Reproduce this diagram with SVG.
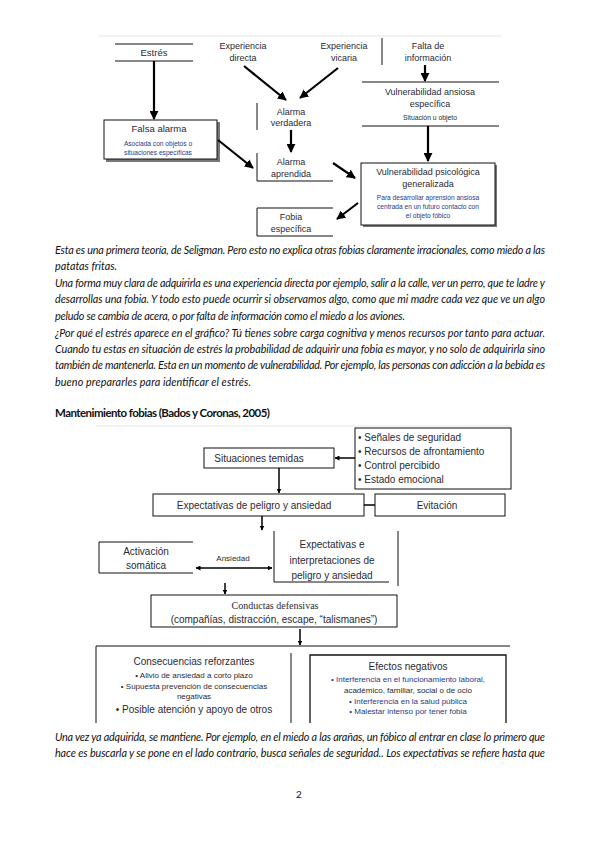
<svg xmlns="http://www.w3.org/2000/svg" width="599" height="848" viewBox="0 0 599 848">
<defs>
<style>
.t{font-family:"Liberation Sans",Arial,sans-serif;fill:#2a2a35;text-anchor:middle}
.l{font-family:"Liberation Sans",Arial,sans-serif;fill:#2a2a35;text-anchor:start}
.s{font-family:"Liberation Sans",Arial,sans-serif;fill:#1e3a8a;text-anchor:middle}
.p{font-family:Lato,"Open Sans",sans-serif;font-style:italic;font-size:10.8px;fill:#111}
.ln{stroke:#111;fill:none}
.bx{stroke:#111;fill:#fff}
</style>
<marker id="ah" viewBox="0 0 10 10" refX="9" refY="5" markerWidth="9" markerHeight="9" markerUnits="userSpaceOnUse" orient="auto"><path d="M0,0 L10,5 L0,10 z" fill="#000"/></marker>
<marker id="as" viewBox="0 0 10 10" refX="9" refY="5" markerWidth="5" markerHeight="5" markerUnits="userSpaceOnUse" orient="auto"><path d="M0,0 L10,5 L0,10 z" fill="#000"/></marker>
<marker id="asr" viewBox="0 0 10 10" refX="1" refY="5" markerWidth="5" markerHeight="5" markerUnits="userSpaceOnUse" orient="auto"><path d="M10,0 L0,5 L10,10 z" fill="#000"/></marker>
</defs>
<rect width="599" height="848" fill="#fff"/>

<!-- Top diagram -->
<line x1="98" y1="36" x2="502" y2="36" stroke="#e6e6e6" stroke-width="1"/>
<g id="estres">
<line class="ln" x1="115" y1="44" x2="193" y2="44"/>
<line class="ln" x1="115" y1="61" x2="193" y2="61"/>
<text class="t" x="154" y="56" font-size="9.5">Estrés</text>
</g>
<g id="falsa-alarma">
<rect x="106" y="122" width="114" height="40" fill="#777"/>
<rect class="bx" x="104" y="120" width="113" height="39"/>
<text class="t" x="159" y="132" font-size="9.5">Falsa alarma</text>
<text class="s" x="158" y="146" font-size="6.6">Asociada con objetos o</text>
<text class="s" x="158" y="155" font-size="6.6">situaciones específicas</text>
</g>
<g id="exp-directa">
<text class="t" x="243" y="49" font-size="9">Experiencia</text>
<text class="t" x="243" y="61" font-size="9">directa</text>
</g>
<g id="exp-vicaria">
<text class="t" x="344" y="49" font-size="9">Experiencia</text>
<text class="t" x="344" y="61" font-size="9">vicaria</text>
</g>
<g id="falta-info">
<line class="ln" x1="382" y1="38" x2="382" y2="65" stroke="#555"/>
<text class="t" x="428" y="49" font-size="9">Falta de</text>
<text class="t" x="428" y="61" font-size="9">información</text>
</g>
<g id="vuln-ansiosa">
<line class="ln" x1="362" y1="82" x2="499" y2="82"/>
<line class="ln" x1="362" y1="126" x2="499" y2="126"/>
<text class="t" x="430" y="95" font-size="9">Vulnerabilidad ansiosa</text>
<text class="t" x="430" y="107" font-size="9">específica</text>
<text class="t" x="430" y="120" font-size="6.8">Situación u objeto</text>
</g>
<g id="alarma-verdadera">
<line class="ln" x1="257" y1="103" x2="257" y2="130"/>
<text class="t" x="291" y="115" font-size="9">Alarma</text>
<text class="t" x="291" y="126" font-size="9">verdadera</text>
</g>
<g id="alarma-aprendida">
<polyline class="ln" points="257,153 257,181 333,181"/>
<text class="t" x="291" y="165" font-size="9">Alarma</text>
<text class="t" x="291" y="177" font-size="9">aprendida</text>
</g>
<g id="vuln-psicologica">
<rect x="363" y="165" width="134" height="62" fill="#777"/>
<rect class="bx" x="361" y="163" width="134" height="62"/>
<text class="t" x="428" y="175" font-size="9">Vulnerabilidad psicológica</text>
<text class="t" x="428" y="187" font-size="9">generalizada</text>
<text class="s" x="428" y="200" font-size="6.6" fill="#1a2a6a">Para desarrollar aprensión ansiosa</text>
<text class="s" x="428" y="209" font-size="6.6" fill="#1a2a6a">centrada en un futuro contacto con</text>
<text class="s" x="428" y="218" font-size="6.6" fill="#1a2a6a">el objeto fóbico</text>
</g>
<g id="fobia-especifica">
<polyline class="ln" points="333,208 257,208 257,236 333,236"/>
<text class="t" x="291" y="220" font-size="9">Fobia</text>
<text class="t" x="291" y="232" font-size="9">específica</text>
</g>
<g id="connectors-top" stroke="#000" stroke-width="2.2" fill="none">
<line x1="154" y1="61" x2="154" y2="119" marker-end="url(#ah)"/>
<line x1="244" y1="66" x2="286" y2="100" marker-end="url(#ah)"/>
<line x1="338" y1="68" x2="300" y2="98" marker-end="url(#ah)"/>
<line x1="425" y1="65" x2="425" y2="81" marker-end="url(#ah)"/>
<line x1="428" y1="126" x2="428" y2="161" marker-end="url(#ah)"/>
<line x1="291" y1="130" x2="291" y2="152" marker-end="url(#ah)"/>
<line x1="218" y1="140" x2="253" y2="168" marker-end="url(#ah)"/>
<line x1="333" y1="163" x2="355" y2="178" marker-end="url(#ah)"/>
<line x1="358" y1="203" x2="337" y2="219" marker-end="url(#ah)"/>
</g>

<!-- Paragraph 1 -->
<g id="texto1">
<text class="p" x="55" y="254" textLength="490" lengthAdjust="spacing">Esta es una primera teoría, de Seligman. Pero esto no explica otras fobias claramente irracionales, como miedo a las</text>
<text class="p" x="55" y="270" textLength="62" lengthAdjust="spacing">patatas fritas.</text>
<text class="p" x="55" y="287" textLength="490" lengthAdjust="spacing">Una forma muy clara de adquirirla es una experiencia directa por ejemplo, salir a la calle, ver un perro, que te ladre y</text>
<text class="p" x="55" y="303" textLength="490" lengthAdjust="spacing">desarrollas una fobia. Y todo esto puede ocurrir si observamos algo, como que mi madre cada vez que ve un algo</text>
<text class="p" x="55" y="320" textLength="350" lengthAdjust="spacing">peludo se cambia de acera, o por falta de información como el miedo a los aviones.</text>
<text class="p" x="55" y="337" textLength="490" lengthAdjust="spacing">¿Por qué el estrés aparece en el gráfico? Tú tienes sobre carga cognitiva y menos recursos por tanto para actuar.</text>
<text class="p" x="55" y="353" textLength="490" lengthAdjust="spacing">Cuando tu estas en situación de estrés la probabilidad de adquirir una fobia es mayor, y no solo de adquirirla sino</text>
<text class="p" x="55" y="369" textLength="490" lengthAdjust="spacing">también de mantenerla. Esta en un momento de vulnerabilidad. Por ejemplo, las personas con adicción a la bebida es</text>
<text class="p" x="55" y="386" textLength="196" lengthAdjust="spacing">bueno prepararles para identificar el estrés.</text>
</g>
<text x="55" y="417" font-family="Lato,'Open Sans',sans-serif" font-weight="bold" font-size="11.5" fill="#111" textLength="215" lengthAdjust="spacing">Mantenimiento fobias (Bados y Coronas, 2005)</text>

<!-- Bottom diagram -->
<line x1="96" y1="426" x2="510" y2="426" stroke="#e6e6e6" stroke-width="1"/>
<g id="situaciones">
<rect class="bx" x="204" y="448" width="130" height="20"/>
<text class="t" x="259" y="462" font-size="10">Situaciones temidas</text>
</g>
<g id="senales">
<rect class="bx" x="355" y="428" width="156" height="61"/>
<text class="l" x="358" y="441" font-size="10">• Señales de seguridad</text>
<text class="l" x="358" y="455" font-size="10">• Recursos de afrontamiento</text>
<text class="l" x="358" y="469" font-size="10">• Control percibido</text>
<text class="l" x="358" y="483" font-size="10">• Estado emocional</text>
</g>
<g id="expectativas">
<rect class="bx" x="153" y="494" width="211" height="22"/>
<text class="t" x="254" y="509" font-size="10">Expectativas de peligro y ansiedad</text>
</g>
<g id="evitacion">
<rect class="bx" x="375" y="494" width="130" height="22"/>
<text class="t" x="437" y="509" font-size="10">Evitación</text>
</g>
<g id="activacion">
<polyline class="ln" points="193,542 99,542 99,573 193,573"/>
<text class="t" x="146" y="555" font-size="10">Activación</text>
<text class="t" x="146" y="569" font-size="10">somática</text>
</g>
<text class="t" x="233" y="561" font-size="8">Ansiedad</text>
<g id="expectativas-interp">
<polyline class="ln" points="274,531 274,582 389,582"/>
<line class="ln" x1="398" y1="531" x2="398" y2="586"/>
<text class="t" x="332" y="548" font-size="10">Expectativas e</text>
<text class="t" x="332" y="564" font-size="10">interpretaciones de</text>
<text class="t" x="332" y="579" font-size="10">peligro y ansiedad</text>
</g>
<g id="conductas">
<rect class="bx" x="151" y="595" width="246" height="32"/>
<text x="275" y="609" font-size="10" font-family="'Liberation Serif','Times New Roman',serif" fill="#2a2a35" text-anchor="middle">Conductas defensivas</text>
<text class="t" x="274" y="623" font-size="10">(compañías, distracción, escape, “talismanes”)</text>
</g>
<g id="consecuencias">
<line class="ln" x1="96" y1="646" x2="510" y2="646"/>
<line class="ln" x1="96" y1="646" x2="96" y2="723"/>
<line class="ln" x1="291" y1="653" x2="291" y2="723"/>
<text class="t" x="194" y="665" font-size="10">Consecuencias reforzantes</text>
<text class="t" x="194" y="678" font-size="8">• Alivio de ansiedad a corto plazo</text>
<text class="t" x="194" y="689" font-size="8">• Supuesta prevención de consecuencias</text>
<text class="t" x="194" y="699" font-size="8">negativas</text>
<text class="t" x="194" y="713" font-size="10">• Posible atención y apoyo de otros</text>
</g>
<g id="efectos">
<polyline class="ln" points="310,723 310,655 506,655 506,723" stroke-width="1.3"/>
<text class="t" x="408" y="670" font-size="10">Efectos negativos</text>
<text class="s" x="408" y="682" font-size="8">• Interferencia en el funcionamiento laboral,</text>
<text class="t" x="408" y="693" font-size="8">académico, familiar, social o de ocio</text>
<text class="s" x="408" y="704" font-size="8">• Interferencia en la salud pública</text>
<text class="s" x="408" y="714" font-size="8">• Malestar intenso por tener fobia</text>
</g>
<g id="connectors-bottom" stroke="#000" stroke-width="1.5" fill="none">
<line x1="355" y1="458" x2="335" y2="458" marker-end="url(#as)"/>
<line x1="279" y1="468" x2="279" y2="493" marker-end="url(#as)"/>
<line x1="364" y1="505" x2="375" y2="505"/>
<line x1="262" y1="516" x2="262" y2="530" marker-end="url(#as)"/>
<line x1="196" y1="568" x2="272" y2="568" marker-start="url(#asr)" marker-end="url(#as)"/>
<line x1="225" y1="583" x2="225" y2="594" marker-end="url(#as)"/>
<line x1="300" y1="629" x2="300" y2="645" marker-end="url(#as)"/>
</g>

<!-- Paragraph 2 -->
<g id="texto2">
<text class="p" x="55" y="741" textLength="490" lengthAdjust="spacing">Una vez ya adquirida, se mantiene. Por ejemplo, en el miedo a las arañas, un fóbico al entrar en clase lo primero que</text>
<text class="p" x="55" y="757" textLength="490" lengthAdjust="spacing">hace es buscarla y se pone en el lado contrario, busca señales de seguridad..  Los expectativas se refiere hasta que</text>
</g>
<text x="299" y="798" font-family="Lato,'Open Sans',sans-serif" font-size="10" fill="#111" text-anchor="middle">2</text>
</svg>
